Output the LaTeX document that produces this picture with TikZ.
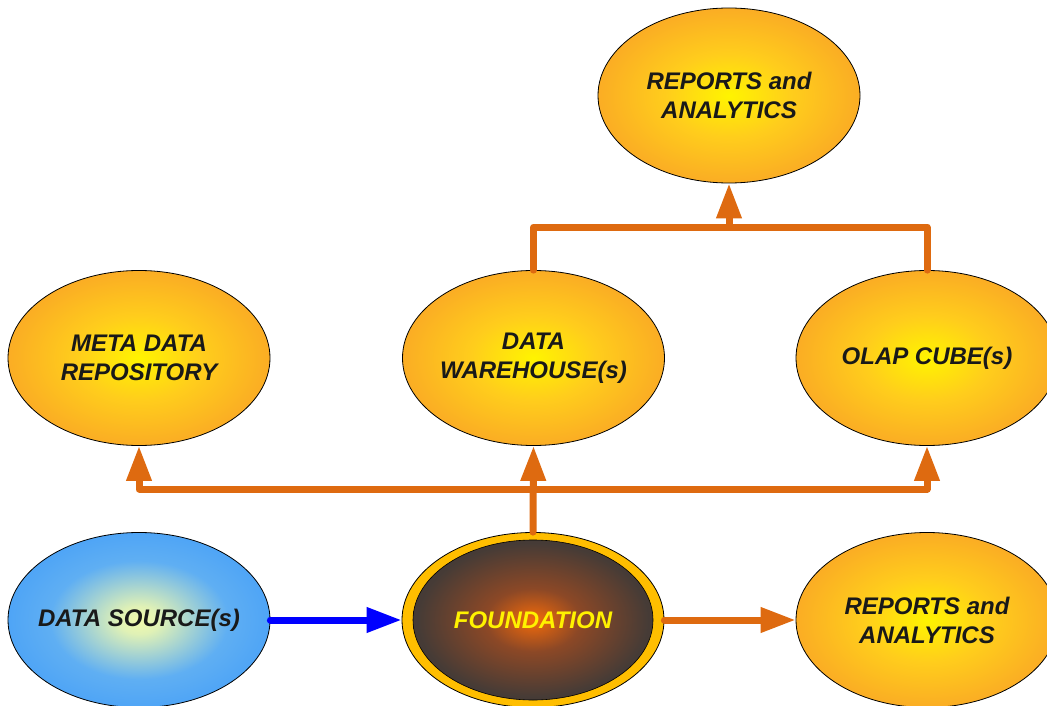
\documentclass[tikz,border=0pt]{standalone}
\usepackage{fontspec}
\setmainfont{Liberation Sans}
\usetikzlibrary{shapes.geometric,arrows.meta}

\definecolor{glowY}{RGB}{255,244,0}
\definecolor{glowM}{RGB}{255,205,28}
\definecolor{glowO}{RGB}{247,148,42}
\definecolor{skyC}{RGB}{242,250,172}
\definecolor{skyM}{RGB}{120,190,238}
\definecolor{skyB}{RGB}{58,152,250}
\definecolor{coreO}{RGB}{242,106,10}
\definecolor{coreM}{RGB}{140,72,38}
\definecolor{coreD}{RGB}{62,58,56}
\definecolor{ringgold}{RGB}{255,190,0}
\definecolor{linkorange}{RGB}{222,106,16}
\definecolor{linkblue}{RGB}{0,0,255}

% radial glows; the rim of an ellipse sits at about 35bp
\pgfdeclareradialshading{orangeglow}{\pgfpoint{0bp}{0bp}}{%
  color(0bp)=(glowY); color(12bp)=(glowM); color(35bp)=(glowO); color(50bp)=(glowO)}
\pgfdeclareradialshading{skyglow}{\pgfpoint{0bp}{0bp}}{%
  color(0bp)=(skyC); color(4bp)=(skyC!85!skyM); color(17bp)=(skyM!60!skyB); color(35bp)=(skyB); color(50bp)=(skyB)}
\pgfdeclareradialshading{coreglow}{\pgfpoint{0bp}{0bp}}{%
  color(0bp)=(coreO); color(9bp)=(coreM); color(22bp)=(coreD!90!coreM); color(35bp)=(coreD); color(50bp)=(coreD)}

\begin{document}
\begin{tikzpicture}[x=1pt,y=-1pt,
  blob/.style={ellipse, draw=black, line width=0.8pt, minimum width=262pt,
    minimum height=175pt, inner sep=-20pt, align=center,
    font=\fontsize{24}{29}\selectfont\bfseries\itshape, text=black!90},
  orangeblob/.style={blob, shading=orangeglow},
  skyblob/.style={blob, shading=skyglow},
  coreblob/.style={blob, fill=ringgold, text=yellow,
    path picture={\shade[shading=coreglow, draw=black, line width=0.6pt]
      (path picture bounding box.center) ellipse [x radius=120pt, y radius=80pt];}},
  link/.style={draw=linkorange, line width=7pt, line cap=round, line join=round},
  bluelink/.style={draw=linkblue, line width=7pt, line cap=round},
  tip/.style={-{Triangle[length=35pt, width=24pt]}}
]
\useasboundingbox (0,0) rectangle (1047,706);

% top row
\node[orangeblob] (reptop) at (729,95.5) {REPORTS and\\ANALYTICS};

% middle row
\node[orangeblob] (meta) at (139,358) {META DATA\\REPOSITORY};
\node[orangeblob] (dwh) at (533.5,358) {DATA\\WAREHOUSE(s)};
\node[orangeblob] (olap) at (927,358) {OLAP CUBE(s)};

% bottom row
\node[skyblob] (src) at (139,620) {DATA SOURCE(s)};
\node[coreblob] (found) at (533,620) {FOUNDATION};
\node[orangeblob] (repbot) at (927,620) {REPORTS and\\ANALYTICS};

% junction points of the two buses
\coordinate (bus) at (533,489);
\coordinate (topbus) at (729,227);

% foundation feeds the middle row
\draw[link,tip] (found.north) -- (dwh.south);
\draw[link,tip] (bus) -| (meta.south);
\draw[link,tip] (bus) -| (olap.south);

% warehouse and cubes feed the reports
\draw[link] (dwh.north) |- (topbus) -| (olap.north);
\draw[link,tip] (topbus) -- (reptop.south);

% bottom flow
\draw[bluelink,tip] (src.east) -- (found.west);
\draw[link,tip] (found.east) -- (repbot.west);
\end{tikzpicture}
\end{document}
